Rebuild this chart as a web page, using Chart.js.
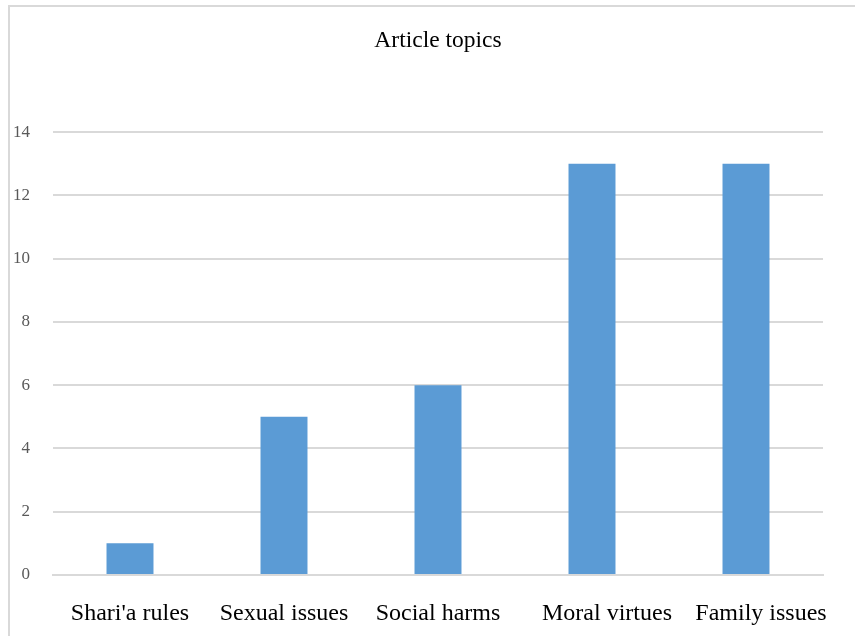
<!DOCTYPE html>
<html lang="en">
<head>
    <meta charset="UTF-8">
    <script src="https://cdn.jsdelivr.net/npm/chart.js"></script>
    <title>Article topics</title>
    <style>
        html, body { margin: 0; padding: 0; background: #fff; }
        #moldura {
            position: absolute; left: 8px; top: 5px; width: 860px; height: 640px;
            border-left: 2px solid #d9d9d9; border-top: 2px solid #d9d9d9;
        }
        #grafico { position: absolute; left: 0; top: 0; }
    </style>
</head>
<body>
<div id="moldura"></div>
<canvas id="grafico" width="855" height="636"></canvas>
<script>
    // dados
    var topicos = ["Shari'a rules", "Sexual issues", "Social harms", "Moral virtues", "Family issues"]
    var qtdArtigos = [1, 5, 6, 13, 13]
    var ticksY = [0, 2, 4, 6, 8, 10, 12, 14]

    new Chart(grafico, {
        type: 'bar',
        data: {
            labels: topicos,
            datasets: [{
                data: qtdArtigos,
                backgroundColor: '#5b9bd5',
                categoryPercentage: 1,
                barPercentage: 0.305
            }]
        },
        options: {
            responsive: false,
            animation: false,
            layout: {
                padding: { left: 10, right: 32, top: 0, bottom: 0 }
            },
            plugins: {
                legend: { display: false },
                tooltip: { enabled: false },
                title: {
                    display: true,
                    fullSize: false,
                    text: 'Article topics',
                    color: '#000',
                    font: { family: 'Liberation Serif', size: 23.5, weight: 'normal', lineHeight: 1.2 },
                    padding: { top: 27, bottom: 77 }
                }
            },
            scales: {
                x: {
                    grid: { display: false },
                    border: { display: true, color: '#d9d9d9', width: 2 },
                    ticks: {
                        color: '#000',
                        font: { family: 'Liberation Serif', size: 24 },
                        padding: 16,
                        maxRotation: 0,
                        autoSkip: false,
                        // no original os dois últimos rótulos vêm um pouco à direita
                        callback: function (valor, i) {
                            var texto = this.getLabelForValue(valor)
                            return i >= 3 ? '\u00a0\u00a0\u00a0\u00a0\u00a0' + texto : texto
                        }
                    },
                    afterFit: function (escala) { escala.height = 61 }
                },
                y: {
                    min: 0,
                    max: 14,
                    afterBuildTicks: function (escala) {
                        escala.ticks = ticksY.map(v => ({ value: v }))
                    },
                    grid: { color: '#d9d9d9', lineWidth: 2, drawTicks: false },
                    border: { display: false },
                    ticks: {
                        color: '#595959',
                        font: { family: 'Liberation Serif', size: 17 },
                        padding: 23
                    },
                    afterFit: function (escala) { escala.width = 43 }
                }
            }
        }
    })
</script>
</body>
</html>
